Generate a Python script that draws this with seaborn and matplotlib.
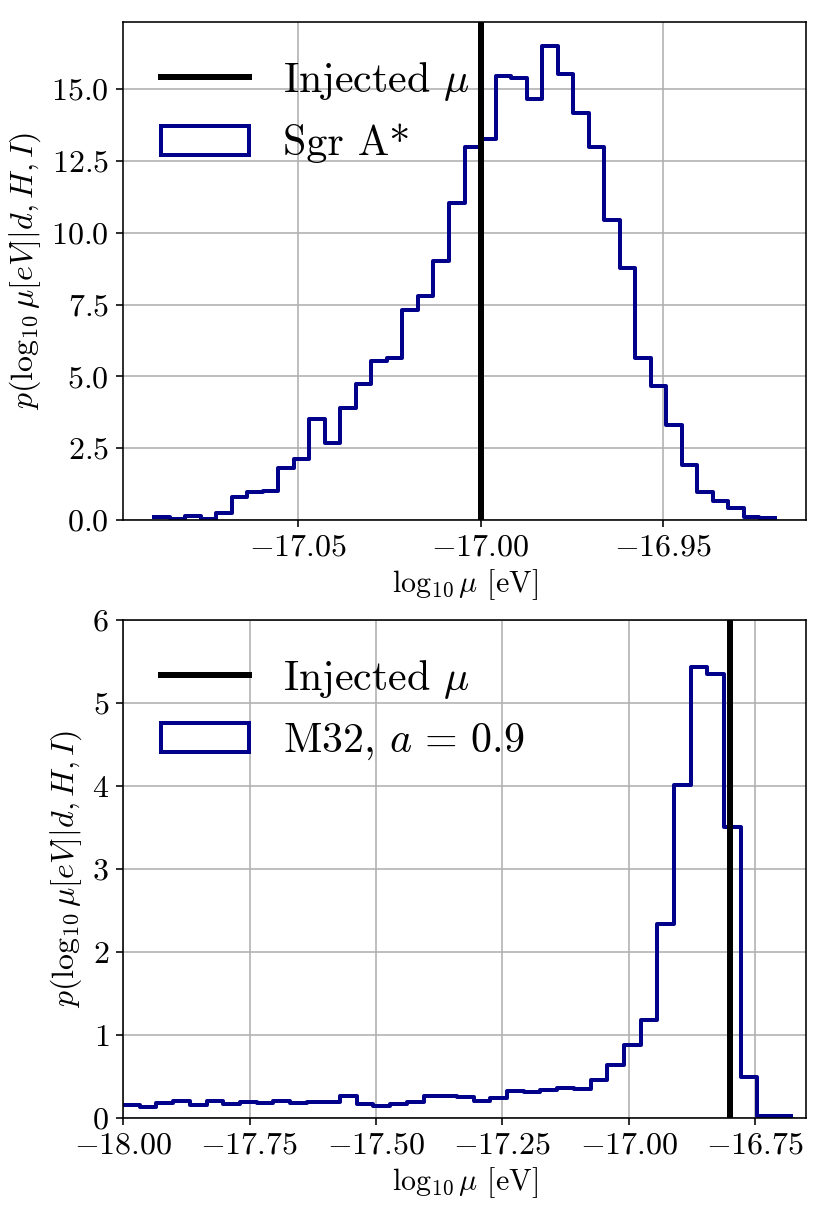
import numpy as np
import pandas as pd
import matplotlib
matplotlib.use("Agg")
import matplotlib.pyplot as plt
from matplotlib.patches import Patch
from matplotlib.lines import Line2D
import seaborn as sns

plt.rcParams['font.family'] = 'serif'
plt.rcParams['font.serif'] = ['cmr10', 'DejaVu Serif']
plt.rcParams['mathtext.fontset'] = 'cm'
plt.rcParams['axes.formatter.use_mathtext'] = True
plt.rcParams['axes.unicode_minus'] = True

# ---- Data: Sgr A* posterior (density histogram, 40 bins) ----
sgr_range = (-17.0896, -16.9192)
sgr_density = [0.10, 0.03, 0.15, 0.05, 0.23, 0.81, 0.99, 1.02, 1.80, 2.12,
               3.52, 2.67, 3.90, 4.73, 5.52, 5.63, 7.31, 7.79, 9.03, 11.05,
               12.99, 13.28, 15.47, 15.37, 14.65, 16.51, 15.52, 14.16, 12.97, 10.44,
               8.76, 5.64, 4.67, 3.31, 1.91, 0.96, 0.65, 0.41, 0.12, 0.07]
sgr_injected = -17.0
sgr_label = "Sgr A*"

# ---- Data: M32, a=0.9 posterior (density histogram, 40 bins) ----
m32_range = (-18.0, -16.68)
m32_density = [0.16, 0.13, 0.18, 0.20, 0.16, 0.21, 0.17, 0.19, 0.18, 0.20,
               0.18, 0.19, 0.19, 0.26, 0.17, 0.14, 0.17, 0.19, 0.26, 0.27,
               0.25, 0.21, 0.24, 0.32, 0.31, 0.34, 0.36, 0.35, 0.46, 0.64,
               0.88, 1.18, 2.34, 4.01, 5.44, 5.35, 3.51, 0.50, 0.02, 0.02]
m32_injected = -16.8
m32_label = r"M32, $a\,=\,0.9$"

top_yticks = [0.0, 2.5, 5.0, 7.5, 10.0, 12.5, 15.0]
top_xticks = [-17.05, -17.00, -16.95]
bot_yticks = [0, 1, 2, 3, 4, 5, 6]
bot_xticks = [-18.00, -17.75, -17.50, -17.25, -17.00, -16.75]

xlabel = r"$\log_{10}\mu$ [eV]"
ylabel = r"$p(\log_{10}\mu[eV]|d, H, I)$"
inj_label = r"Injected $\mu$"

HIST_COLOR = "darkblue"

fig, axes = plt.subplots(2, 1, figsize=(829 / 144, 1217 / 144), dpi=144)
fig.subplots_adjust(left=0.1484, right=0.9723, bottom=0.0813, top=0.9819, hspace=0.201)


def draw(ax, rng, dens, injected, label):
    edges = np.linspace(rng[0], rng[1], len(dens) + 1)
    centers = 0.5 * (edges[:-1] + edges[1:])
    df = pd.DataFrame({"x": centers, "w": np.asarray(dens, dtype=float)})
    sns.histplot(data=df, x="x", weights="w", bins=list(edges), element="step",
                 fill=False, color=HIST_COLOR, linewidth=2, ax=ax, stat="count")
    ax.axvline(injected, color="black", linewidth=3)
    ax.grid(True, color="#b0b0b0", linewidth=0.8)
    ax.set_xlabel(xlabel, fontsize=15, labelpad=3)
    ax.set_ylabel(ylabel, fontsize=16, labelpad=4)
    ax.tick_params(labelsize=16)
    handles = [Line2D([0], [0], color="black", linewidth=3),
               Patch(facecolor="none", edgecolor=HIST_COLOR, linewidth=2)]
    ax.legend(handles, [inj_label, label], loc="upper left", frameon=False,
              fontsize=21, handlelength=2.1)
    return edges


e = draw(axes[0], sgr_range, sgr_density, sgr_injected, sgr_label)
w = e[-1] - e[0]
axes[0].set_xlim(e[0] - 0.05 * w, e[-1] + 0.05 * w)
axes[0].set_ylim(0, max(sgr_density) * 1.05)
axes[0].set_xticks(top_xticks)
axes[0].set_yticks(top_yticks)

draw(axes[1], m32_range, m32_density, m32_injected, m32_label)
axes[1].set_xlim(-18.0, -16.65)
axes[1].set_ylim(0, 6)
axes[1].set_xticks(bot_xticks)
axes[1].set_yticks(bot_yticks)

fig.savefig("out.png", dpi=144)
